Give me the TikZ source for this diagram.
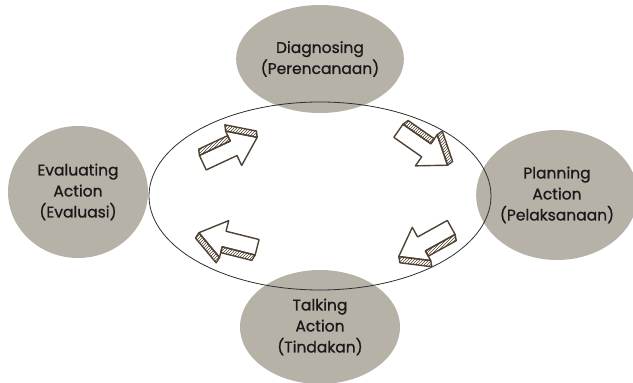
\documentclass[tikz,border=0pt]{standalone}
\usepackage{fontspec}
\setmainfont{Poppins}
\newfontfamily\phasefont{Poppins}[FakeBold=0.9]
\usetikzlibrary{shapes.geometric,patterns}
\definecolor{phasebg}{RGB}{183,178,168}
\definecolor{sketch}{RGB}{78,66,50}
\definecolor{ringline}{RGB}{45,45,45}
\tikzset{
    phase/.style={ellipse, fill=phasebg, align=center, inner sep=0pt,
        font=\phasefont\fontsize{15.5}{21}\selectfont, text=black!90},
    ring/.style={ellipse, draw=ringline, line width=0.8pt, inner sep=0pt},
    arrowline/.style={draw=sketch, line width=1.4pt, line join=round},
    sidehatch/.style={arrowline, pattern=north east lines, pattern color=sketch},
    blockarrow/.pic={
        \fill[white] (-30,-8) -- (4,-8) -- (4,-19) -- (30,0) -- (4,19) -- (4,8) -- (-30,8) -- cycle;
        \path[sidehatch] (-30,8) -- (-28,14) -- (4,14) -- (4,8) -- cycle;
        \path[sidehatch] (4,19) -- (6,25) -- (32,6) -- (30,0) -- cycle;
        \draw[arrowline] (-30,-8) -- (4,-8) -- (4,-19) -- (30,0) -- (4,19) -- (4,8) -- (-30,8) -- cycle;
    }
}
\begin{document}
\begin{tikzpicture}[x=1pt, y=1pt]
    \useasboundingbox (0,0) rectangle (633,383);
    % the four phases
    \node[phase, minimum width=160, minimum height=108] (diag) at (320,324) {Diagnosing\\(Perencanaan)};
    \node[phase, minimum width=140, minimum height=132] (eval) at (78,191) {Evaluating\\Action\\(Evaluasi)};
    \node[phase, minimum width=136, minimum height=130] (plan) at (557,188) {Planning\\Action\\(Pelaksanaan)};
    \node[phase, minimum width=160, minimum height=114] (talk) at (320,56) {Talking\\Action\\(Tindakan)};
    % cycle ring
    \node[ring, minimum width=342, minimum height=188] (loop) at (320,187) {};
    % sketched arrows
    \pic[rotate=25] at (230,233) {blockarrow};
    \pic[rotate=-35] at (423,235) {blockarrow};
    \pic[rotate=209] at (425,141) {blockarrow};
    \pic[rotate=166] at (228,143) {blockarrow};
\end{tikzpicture}
\end{document}
